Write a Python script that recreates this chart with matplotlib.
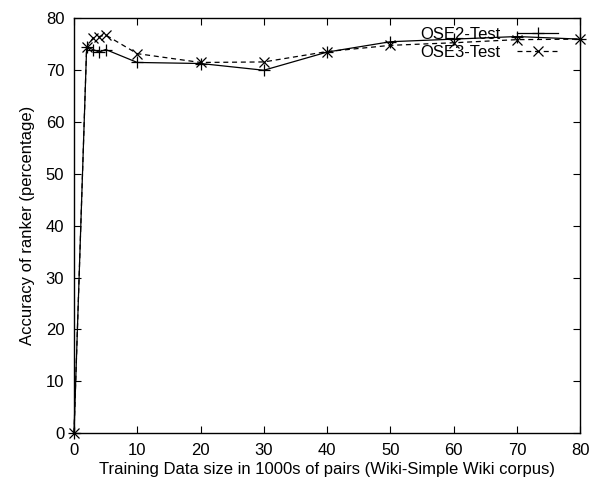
import matplotlib
matplotlib.use("Agg")
import matplotlib.pyplot as plt

plt.rcParams["font.family"] = ["Liberation Sans", "DejaVu Sans"]

train_size = [0, 2, 3, 4, 5, 10, 20, 30, 40, 50, 60, 70, 80]
ose2_test = [0, 74.5, 74.0, 73.5, 74.0, 71.5, 71.3, 70.0, 73.5, 75.5, 76.0, 76.5, 76.0]
ose3_test = [0, 74.5, 76.2, 76.5, 76.8, 73.2, 71.5, 71.6, 73.6, 74.8, 75.3, 75.9, 76.0]

fig = plt.figure(figsize=(5.92, 4.84), dpi=100)
ax = fig.add_axes([0.125, 0.105, 0.855, 0.857])

ax.plot(train_size, ose2_test, color="black", linewidth=0.9, marker="+",
        markersize=8, markeredgewidth=0.9, label="OSE2-Test", clip_on=False)
ax.plot(train_size, ose3_test, color="black", linewidth=0.9, linestyle=(0, (4, 3)),
        marker="x", markersize=6.5, markeredgewidth=0.9, label="OSE3-Test", clip_on=False)

ax.set_xlim(0, 80)
ax.set_ylim(0, 80)
ax.set_xticks(range(0, 81, 10))
ax.set_yticks(range(0, 81, 10))
ax.tick_params(direction="in", top=True, right=True, length=5, labelsize=12)
ax.tick_params(axis="x", pad=7)
ax.tick_params(axis="y", pad=7)
for s in ax.spines.values():
    s.set_linewidth(1.0)

ax.set_xlabel("Training Data size in 1000s of pairs (Wiki-Simple Wiki corpus)", fontsize=12, labelpad=3)
ax.set_ylabel("Accuracy of ranker (percentage)", fontsize=12, labelpad=8)

ax.legend(loc="upper right", frameon=False, markerfirst=False, fontsize=12,
          handlelength=2.5, borderaxespad=0, borderpad=0, labelspacing=0.2,
          handletextpad=1.0, bbox_to_anchor=(0.957, 0.98))

fig.savefig("out.png", dpi=100)
